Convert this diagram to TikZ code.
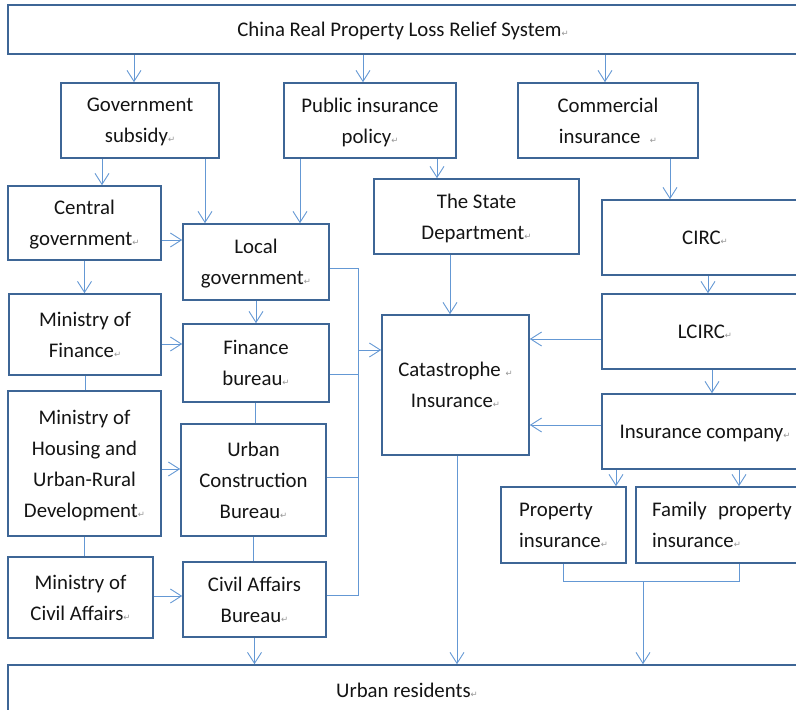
\documentclass[tikz,border=0pt]{standalone}
\usepackage{fontspec}
\setmainfont{Carlito}
\newfontfamily\arrowfont{DejaVu Sans}
\usetikzlibrary{positioning, arrows.meta, calc}
\definecolor{BoxBlue}{RGB}{62,102,150}
\definecolor{LineBlue}{RGB}{100,152,212}
\definecolor{TextDark}{RGB}{20,20,20}
\definecolor{RetGray}{RGB}{150,150,150}
\newcommand{\retmark}{{\arrowfont\fontsize{8.5}{8.5}\selectfont\textcolor{RetGray}{↵}}}

\begin{document}
\begin{tikzpicture}[x=1pt, y=-1pt,
    box/.style={draw=BoxBlue, line width=1.6pt, fill=white, align=center, inner sep=2pt,
      text=TextDark, text depth=-6pt, font=\fontsize{20.8}{31}\selectfont},
    leftbox/.style={box, align=left},
    line/.style={draw=LineBlue, line width=0.9pt},
    arr/.style={line, -{Straight Barb[length=11pt, width=14pt, line width=0.9pt]}}]
  \useasboundingbox (0,0) rectangle (796,710);
  % top row
  \node[box, minimum width=790pt, minimum height=49pt] (sys) at (403,29.5) {China Real Property Loss Relief System\retmark};
  \node[box, minimum width=158pt, minimum height=75pt] (gov) at (140,120.5) {Government\\subsidy\retmark};
  \node[box, minimum width=172pt, minimum height=75pt] (pub) at (370,120.5) {Public insurance\\policy\retmark};
  \node[box, minimum width=180pt, minimum height=75pt] (com) at (608,120.5) {Commercial\\insurance~~\retmark};
  % government branch
  \node[box, minimum width=153pt, minimum height=74pt] (cen) at (84.5,223) {Central\\government\retmark};
  \node[box, minimum width=146pt, minimum height=76pt] (loc) at (256,262) {Local\\government\retmark};
  \node[box, minimum width=152pt, minimum height=81pt] (fin) at (85,334.5) {Ministry of\\Finance\retmark};
  \node[box, minimum width=146pt, minimum height=78pt] (finb) at (256,363) {Finance\\bureau\retmark};
  \node[box, minimum width=153pt, minimum height=145pt] (hou) at (84.5,463.5) {Ministry of\\Housing and\\Urban-Rural\\Development\retmark};
  \node[box, minimum width=145pt, minimum height=112pt] (ucb) at (253.5,480) {Urban\\Construction\\Bureau\retmark};
  \node[box, minimum width=145pt, minimum height=81pt] (civ) at (80.5,597.5) {Ministry of\\Civil Affairs\retmark};
  \node[box, minimum width=143pt, minimum height=75pt] (cab) at (254.5,599.5) {Civil Affairs\\Bureau\retmark};
  % insurance branch
  \node[box, minimum width=205pt, minimum height=75pt] (sta) at (476.5,216.5) {The State\\Department\retmark};
  \node[box, minimum width=147pt, minimum height=140pt] (cat) at (455.5,385) {Catastrophe~\retmark\\Insurance\retmark};
  \node[box, minimum width=206pt, minimum height=75pt] (circ) at (705,237.5) {CIRC\retmark};
  \node[box, minimum width=206pt, minimum height=75pt] (lcirc) at (705,331.5) {LCIRC\retmark};
  \node[box, minimum width=206pt, minimum height=75pt] (insc) at (705,431.5) {Insurance company\retmark};
  \node[leftbox, minimum width=125pt, minimum height=76pt] (prop) at (563.5,525) {Property\\insurance\retmark};
  \node[leftbox, minimum width=172pt, minimum height=76pt] (fam) at (722,525) {Family\hspace{0.55em}property\\insurance\retmark};
  % bottom
  \node[box, minimum width=798pt, minimum height=50pt] (res) at (407,690) {Urban residents\retmark};

  % connectors from the top
  \draw[arr] ([xshift=-6pt]gov.north |- sys.south) -- ([xshift=-6pt]gov.north);
  \draw[arr] ([xshift=-7pt]pub.north |- sys.south) -- ([xshift=-7pt]pub.north);
  \draw[arr] ([xshift=-3pt]com.north |- sys.south) -- ([xshift=-3pt]com.north);
  \draw[arr] ([xshift=-38pt]gov.south) -- ([xshift=-38pt]gov.south |- cen.north);
  \draw[arr] ([xshift=65pt]gov.south) -- ([xshift=65pt]gov.south |- loc.north);
  \draw[arr] ([xshift=-70pt]pub.south) -- ([xshift=-70pt]pub.south |- loc.north);
  \draw[arr] ([xshift=67pt]pub.south) -- ([xshift=67pt]pub.south |- sta.north);
  \draw[arr] ([xshift=62pt]com.south) -- ([xshift=62pt]com.south |- circ.north);
  % government chain
  \draw[arr] ([yshift=-17pt]cen.east) -- ([yshift=-17pt]cen.east -| loc.west);
  \draw[arr] (cen.south) -- (cen.south |- fin.north);
  \draw[arr] ([yshift=-9.5pt]fin.east) -- ([yshift=-9.5pt]fin.east -| finb.west);
  \draw[arr] (loc.south) -- (loc.south |- finb.north);
  \draw[line] (fin.south) -- (fin.south |- hou.north);
  \draw[line] (hou.south) -- (hou.south |- civ.north);
  \draw[line] ([xshift=-1pt]finb.south) -- ([xshift=-1pt]finb.south |- ucb.north);
  \draw[line] (ucb.south) -- (ucb.south |- cab.north);
  \draw[arr] ([yshift=-5.5pt]hou.east) -- ([yshift=-5.5pt]hou.east -| ucb.west);
  \draw[arr] ([yshift=1.5pt]civ.east) -- ([yshift=1.5pt]civ.east -| cab.west);
  % collecting line to catastrophe insurance
  \draw[line] ([yshift=-6pt]loc.east) -- ++(29,0) coordinate (bus) |- ([yshift=4.5pt]cab.east);
  \draw[line] ([yshift=-11pt]finb.east) -- ++(29,0);
  \draw[line] ([yshift=3pt]ucb.east) -- ++(32,0);
  \coordinate (catin) at ([yshift=35pt]cat.west);
  \draw[arr] (bus |- catin) -- (catin);
  % insurance chain
  \draw[arr] ([xshift=-26.5pt]sta.south) -- ([xshift=-26.5pt]sta.south |- cat.north);
  \draw[arr] ([xshift=3pt]circ.south) -- ([xshift=3pt]circ.south |- lcirc.north);
  \draw[arr] ([xshift=7pt]lcirc.south) -- ([xshift=7pt]lcirc.south |- insc.north);
  \draw[arr] ([yshift=-7.5pt]lcirc.west) -- ([yshift=-7.5pt]lcirc.west -| cat.east);
  \draw[arr] ([yshift=6.5pt]insc.west) -- ([yshift=6.5pt]insc.west -| cat.east);
  \draw[arr] ([xshift=-89pt]insc.south) -- ([xshift=-89pt]insc.south |- prop.north);
  \draw[arr] ([xshift=34pt]insc.south) -- ([xshift=34pt]insc.south |- fam.north);
  \draw[line] (prop.south) -- ++(0,18) coordinate (join) -| ([xshift=17pt]fam.south);
  \coordinate (drop) at ([xshift=79.5pt]join);
  \draw[arr] (drop) -- (drop |- res.north);
  % to urban residents
  \draw[arr] ([xshift=1.5pt]cat.south) -- ([xshift=1.5pt]cat.south |- res.north);
  \draw[arr] (cab.south) -- (cab.south |- res.north);
\end{tikzpicture}
\end{document}
